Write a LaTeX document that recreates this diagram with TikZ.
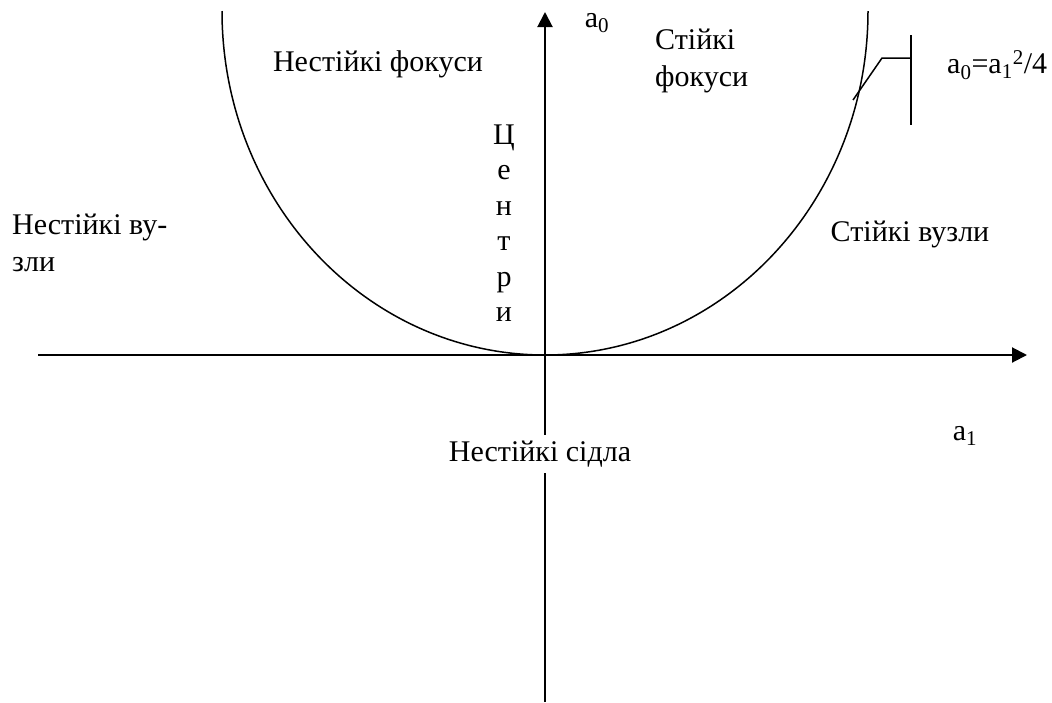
\documentclass[tikz,border=0pt]{standalone}
\usepackage{fontspec}
\setmainfont{Liberation Serif}
\usepackage{tikz}
\usetikzlibrary{arrows.meta}

\begin{document}
\begin{tikzpicture}[x=1pt, y=-1pt, font=\fontsize{30}{37}\selectfont,
  ax/.style={line width=2pt, -{Triangle[length=15pt, width=15pt]}},
  lb/.style={inner sep=0pt, align=left}]
\useasboundingbox (0,0) rectangle (1052,702);
% axes
\coordinate (xl) at (38,355); \coordinate (xr) at (1027,355);
\coordinate (yb) at (545,702); \coordinate (yt) at (545,12);
\draw[ax] (xl) -- (xr);
\draw[ax] (yb) -- (yt);
% boundary curve
\draw[line width=1.5pt] (222,11) arc[start angle=180, end angle=0, x radius=323, y radius=344];
% pointer to the curve
\coordinate (p0) at (853,100); \coordinate (p1) at (882,58);
\coordinate (bt) at (911,35); \coordinate (bb) at (911,125);
\draw[line width=1.5pt] (p0) -- (p1) -- (bt |- p1);
\draw[line width=1.5pt] (bt) -- (bb);
\node[lb, anchor=west] (eq) at (947,65) {a\textsubscript{0}=a\textsubscript{1}\textsuperscript{2}/4};
% labels
\node[lb] (a0) at (597,23) {a\textsubscript{0}};
\node[lb] (a1) at (965,436) {a\textsubscript{1}};
\node[lb] (uf) at (378,64) {Нестійкі фокуси};
\node[lb, anchor=west] (sf) at (655,61) {Стійкі\\фокуси};
\node[lb, anchor=west] (un) at (12,243) {Нестійкі ву-\\зли};
\node[lb] (sn) at (910,234) {Стійкі вузли};
\node[lb, align=center, font=\fontsize{30}{35.5}\selectfont] (cn) at (504,223) {Ц\\е\\н\\т\\р\\и};
\node[fill=white, inner xsep=2pt, inner ysep=6pt] (us) at (540,454) {Нестійкі сідла};
\end{tikzpicture}
\end{document}
